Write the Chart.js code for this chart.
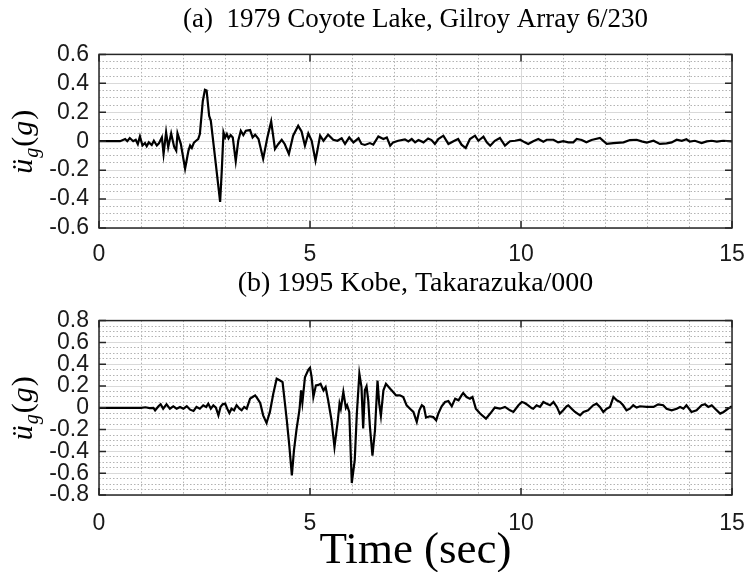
<!DOCTYPE html>
<html>
<head>
<meta charset="utf-8">
<script src="https://cdn.jsdelivr.net/npm/chart.js@4/dist/chart.umd.min.js"></script>
<style>
body { margin: 0; background: #fff; width: 748px; height: 572px; overflow: hidden; position: relative; }
canvas { position: absolute; left: 0; }
#chartA { top: 0; }
#chartB { top: 266px; }
</style>
</head>
<body>
<canvas id="chartA" width="748" height="268"></canvas>
<canvas id="chartB" width="748" height="306"></canvas>
<script>
// tick labels
var ticksX = [0, 5, 10, 15];
var ticksYA = [-0.6, -0.4, -0.2, 0, 0.2, 0.4, 0.6];
var ticksYB = [-0.8, -0.6, -0.4, -0.2, 0, 0.2, 0.4, 0.6, 0.8];

// (a) 1979 Coyote Lake, Gilroy Array 6/230  -- time (s), accel (g)
var timeA = [0, 0.5, 0.62, 0.67, 0.73, 0.81, 0.87, 0.92, 0.97, 1.03, 1.09, 1.13, 1.18, 1.25, 1.3, 1.37, 1.42, 1.45,
  1.49, 1.53, 1.59, 1.64, 1.71, 1.78, 1.83, 1.86, 1.94, 2.04, 2.12, 2.16, 2.2, 2.25, 2.3, 2.35, 2.39, 2.46, 2.51,
  2.55, 2.61, 2.65, 2.75, 2.87, 2.91, 2.95, 2.99, 3.03, 3.07, 3.12, 3.17, 3.24, 3.3, 3.36, 3.42, 3.48, 3.58, 3.64,
  3.7, 3.78, 3.89, 3.99, 4.08, 4.17, 4.25, 4.33, 4.4, 4.5, 4.6, 4.72, 4.8, 4.88, 4.96, 5.04, 5.13, 5.24, 5.32, 5.43,
  5.55, 5.65, 5.75, 5.83, 5.93, 6.03, 6.15, 6.22, 6.3, 6.42, 6.5, 6.62, 6.74, 6.82, 6.9, 6.97, 7.09, 7.25, 7.33,
  7.41, 7.49, 7.57, 7.69, 7.8, 7.88, 7.96, 8.04, 8.16, 8.28, 8.4, 8.51, 8.59, 8.69, 8.79, 8.91, 8.99, 9.11, 9.19,
  9.27, 9.38, 9.5, 9.62, 9.74, 9.86, 9.98, 10.09, 10.17, 10.29, 10.41, 10.53, 10.61, 10.77, 10.88, 11, 11.12, 11.24,
  11.32, 11.44, 11.55, 11.67, 11.87, 12.03, 12.19, 12.43, 12.58, 12.74, 12.86, 12.98, 13.14, 13.29, 13.45, 13.57,
  13.69, 13.81, 13.92, 14, 14.12, 14.28, 14.4, 14.52, 14.64, 14.79, 15];
var accA = [0, 0, 0.015, 0, 0.022, 0, 0.01, -0.02, 0.033, -0.03, -0.013, -0.035, -0.008, -0.026, 0.003, -0.03, -0.015, 0.003,
  0.026, -0.088, 0.061, -0.042, 0.054, -0.038, -0.065, 0.054, -0.02, -0.19, -0.065, -0.03, -0.047, -0.01, 0.003, 0.015, 0.049, 0.278, 0.355,
  0.35, 0.175, 0.141, -0.111, -0.42, -0.2, 0.061, 0.025, 0.05, 0.02, 0.042, 0.026, -0.138, 0.003, 0.072, 0.042, 0.072, 0.077, 0.026,
  0.045, 0.015, -0.122, 0.026, 0.136, -0.054, -0.019, 0.01, -0.019, -0.088, 0.038, 0.106, 0.067, -0.031, 0.054, 0.003, -0.134, 0.038, 0.003, 0.045,
  0.01, 0.003, 0.02, -0.019, 0.026, -0.008, 0.02, -0.019, -0.026, -0.013, -0.024, 0.033, 0.015, 0.026, -0.031, -0.008, 0.003, 0.013, -0.001,
  0.015, -0.008, 0.008, -0.008, 0.019, 0.008, -0.019, 0.015, 0.038, -0.019, 0, 0.015, -0.024, -0.047, 0.015, 0.038, 0.003, 0.031, -0.008,
  -0.031, 0.003, 0.022, -0.031, 0, 0.003, 0.01, -0.008, -0.019, 0, 0.015, -0.003, 0.01, 0.01, -0.008, 0, -0.008, -0.008,
  0.015, 0.008, -0.008, 0.008, 0.022, -0.019, -0.013, -0.008, 0.008, 0.01, -0.001, -0.01, 0.003, -0.019, -0.015, -0.008,
  0.01, 0.003, 0.013, -0.003, 0.003, -0.013, -0.001, 0.003, -0.003, 0.003, -0.001];

// (b) 1995 Kobe, Takarazuka/000
var timeB = [0, 1, 1.1, 1.2, 1.29, 1.33, 1.41, 1.46, 1.52, 1.6, 1.68, 1.76, 1.84, 1.92, 2, 2.08, 2.16, 2.24, 2.31, 2.39,
  2.47, 2.54, 2.59, 2.65, 2.71, 2.77, 2.83, 2.88, 2.93, 2.99, 3.04, 3.09, 3.14, 3.2, 3.26, 3.33, 3.38, 3.44, 3.5,
  3.58, 3.64, 3.7, 3.74, 3.82, 3.89, 3.97, 4.05, 4.13, 4.21, 4.29, 4.35, 4.45, 4.51, 4.57, 4.62, 4.68, 4.75, 4.79,
  4.82, 4.88, 4.96, 5, 5.04, 5.08, 5.14, 5.2, 5.25, 5.32, 5.37, 5.43, 5.51, 5.58, 5.66, 5.7, 5.73, 5.79, 5.85, 5.88,
  5.93, 5.99, 6.06, 6.11, 6.17, 6.22, 6.26, 6.3, 6.34, 6.38, 6.42, 6.48, 6.54, 6.6, 6.64, 6.68, 6.74, 6.8, 6.9, 6.97,
  7.04, 7.13, 7.21, 7.29, 7.37, 7.45, 7.53, 7.59, 7.65, 7.7, 7.75, 7.84, 7.92, 7.99, 8.04, 8.12, 8.2, 8.28, 8.36,
  8.44, 8.52, 8.59, 8.63, 8.71, 8.79, 8.85, 8.93, 9.03, 9.17, 9.27, 9.38, 9.5, 9.62, 9.74, 9.82, 9.94, 10.02, 10.09,
  10.17, 10.25, 10.29, 10.37, 10.45, 10.53, 10.61, 10.69, 10.77, 10.85, 10.92, 11, 11.08, 11.12, 11.2, 11.28, 11.4,
  11.48, 11.59, 11.71, 11.79, 11.87, 11.95, 12.03, 12.11, 12.19, 12.27, 12.35, 12.42, 12.5, 12.58, 12.66, 12.74,
  12.82, 12.98, 13.14, 13.25, 13.37, 13.45, 13.57, 13.69, 13.77, 13.85, 13.92, 14.04, 14.16, 14.28, 14.36, 14.44,
  14.52, 14.6, 14.72, 14.8, 14.91, 15];
var accB = [0, 0, 0.005, -0.003, 0, -0.023, 0.014, 0.032, -0.008, 0.032, -0.008, 0.014, -0.008, 0.008, -0.008, 0.014, -0.017, -0.029, 0.008, -0.008,
  0.023, 0.008, 0.038, -0.008, 0.023, 0.002, -0.069, 0.008, 0.032, 0.038, -0.008, -0.047, -0.008, -0.023, 0.023, -0.008, -0.023, 0.008, -0.008,
  0.084, 0.099, 0.114, 0.093, 0.044, -0.069, -0.139, -0.038, 0.129, 0.267, 0.25, 0.236, -0.114, -0.35, -0.62, -0.39, -0.2, -0.02, 0.16,
  0.05, 0.28, 0.349, 0.367, 0.28, 0.1, 0.206, 0.21, 0.22, 0.16, 0.19, 0.069, -0.114, -0.36, -0.114, 0.038, -0.008, 0.145, 0, 0.023,
  -0.038, -0.69, -0.48, -0.053, 0.312, 0.19, -0.19, 0.16, 0.197, 0.069, -0.175, -0.44, -0.206, 0.25, 0.038, -0.075, 0.16, 0.22, 0.175, 0.145,
  0.114, 0.114, 0.099, 0.023, -0.008, -0.038, -0.129, -0.023, 0.023, 0.008, -0.09, -0.078, -0.084, -0.114, -0.053, 0.014, 0.053, 0.062, 0.014,
  0.084, 0.069, 0.114, 0.136, 0.099, 0.084, 0.099, -0.008, -0.053, -0.099, -0.053, 0.002, -0.008, 0.008, -0.023, -0.038, 0.023, 0.053, 0.044,
  0.023, -0.002, -0.008, 0.023, 0.008, 0.053, 0.038, 0.023, 0.053, 0.008, -0.053, -0.023, 0.014, 0.023, -0.008, -0.038, -0.069,
  -0.038, -0.023, 0.023, 0.038, 0.008, -0.038, -0.008, 0.008, 0.099, 0.069, 0.053, 0.023, -0.023, -0.008, 0.023, 0.002,
  0.014, 0.008, 0.008, 0.032, 0.023, -0.008, -0.023, -0.008, 0.008, -0.008, 0.023, -0.038, -0.023, 0.023, 0.032, 0.008,
  0.023, -0.008, -0.053, -0.038, -0.008, 0.014];

Chart.defaults.font.family = '"Liberation Sans", Arial, sans-serif';
Chart.defaults.color = '#1a1a1a';

function findTick(list, v) {
  for (var i = 0; i < list.length; i++) {
    if (Math.abs(list[i] - v) < 1e-6) return list[i];
  }
  return null;
}

// box around plot area + MATLAB style inward ticks
var framePlugin = {
  id: 'frame',
  afterDatasetsDraw: function(chart, args, opts) {
    var ctx = chart.ctx, a = chart.chartArea;
    var xs = chart.scales.x, ys = chart.scales.y;
    ctx.save();
    ctx.strokeStyle = '#262626';
    ctx.lineWidth = 1.5;
    ctx.beginPath();
    opts.xTicks.forEach(function(v) {
      var p = xs.getPixelForValue(v);
      ctx.moveTo(p, a.bottom); ctx.lineTo(p, a.bottom - 7);
      ctx.moveTo(p, a.top); ctx.lineTo(p, a.top + 7);
    });
    opts.yTicks.forEach(function(v) {
      var p = ys.getPixelForValue(v);
      ctx.moveTo(a.left, p); ctx.lineTo(a.left + 7, p);
      ctx.moveTo(a.right, p); ctx.lineTo(a.right - 7, p);
    });
    ctx.stroke();
    ctx.strokeRect(a.left, a.top, a.right - a.left, a.bottom - a.top);
    ctx.restore();
  }
};

// rotated y label: u-double-dot sub g (g)
var yLabelPlugin = {
  id: 'yLabel',
  afterDraw: function(chart) {
    var ctx = chart.ctx, a = chart.chartArea;
    var cy = (a.top + a.bottom) / 2;
    var parts = [
      ['\u00fc', 'italic 30px "Liberation Serif"', 0],
      ['g', 'italic 20px "Liberation Serif"', 6],
      ['(', '30px "Liberation Serif"', 0],
      ['g', 'italic 30px "Liberation Serif"', 0],
      [')', '30px "Liberation Serif"', 0]
    ];
    ctx.save();
    var total = 0;
    parts.forEach(function(p) { ctx.font = p[1]; p.push(ctx.measureText(p[0]).width); total += p[3] + 1; });
    ctx.translate(32, cy);
    ctx.rotate(-Math.PI / 2);
    ctx.fillStyle = '#000';
    ctx.textBaseline = 'alphabetic';
    var x = -total / 2;
    parts.forEach(function(p) {
      ctx.font = p[1];
      ctx.fillText(p[0], x, p[2]);
      x += p[3] + 1;
    });
    ctx.restore();
  }
};

function makeChart(id, times, acc, yTicks, yMin, yMax, title, titleSize, titlePad, xHeight, xPad, xTitle) {
  var step = 0.05;
  return new Chart(document.getElementById(id), {
    type: 'line',
    data: {
      datasets: [{
        data: times.map(function(t, i) { return {x: t, y: acc[i]}; }),
        borderColor: '#000',
        borderWidth: 2.2,
        pointRadius: 0,
        tension: 0,
        fill: false
      }]
    },
    options: {
      responsive: false,
      animation: false,
      layout: {padding: {left: 0, right: 16, top: 0, bottom: 0}},
      plugins: {
        legend: {display: false},
        tooltip: {enabled: false},
        title: {
          display: true,
          text: title,
          fullSize: false,
          color: '#000',
          font: {family: '"Liberation Serif", "Times New Roman", serif', size: titleSize, weight: 'normal'},
          padding: titlePad
        },
        frame: {xTicks: ticksX, yTicks: yTicks}
      },
      scales: {
        x: {
          type: 'linear',
          min: 0,
          max: 15,
          afterFit: function(s) { s.height = xHeight; s.paddingLeft = 0; s.paddingRight = 0; },
          ticks: {
            stepSize: 1,
            autoSkip: false,
            maxRotation: 0,
            padding: xPad,
            font: {size: 23},
            callback: function(v) { var t = findTick(ticksX, v); return t === null ? '' : String(t); }
          },
          grid: {
            drawTicks: false,
            lineWidth: 1,
            color: function(c) { return c.tick && findTick(ticksX, c.tick.value) !== null ? '#d9d9d9' : '#b3b3b3'; }
          },
          border: {
            display: false,
            dash: function(c) { return c.tick && findTick(ticksX, c.tick.value) !== null ? [] : [1.5, 2]; }
          },
          title: xTitle
        },
        y: {
          min: yMin,
          max: yMax,
          afterFit: function(s) { s.width = 99; },
          ticks: {
            stepSize: step,
            autoSkip: false,
            padding: 10,
            font: {size: 23},
            callback: function(v) { var t = findTick(yTicks, v); return t === null ? '' : String(t); }
          },
          grid: {
            drawTicks: false,
            lineWidth: 1,
            color: function(c) { return c.tick && findTick(yTicks, c.tick.value) !== null ? '#d9d9d9' : '#b3b3b3'; }
          },
          border: {
            display: false,
            dash: function(c) { return c.tick && findTick(yTicks, c.tick.value) !== null ? [] : [1.5, 2]; }
          }
        }
      }
    },
    plugins: [framePlugin, yLabelPlugin]
  });
}

makeChart('chartA', timeA, accA, ticksYA, -0.6, 0.6,
  '(a)  1979 Coyote Lake, Gilroy Array 6/230', 27, {top: 4, bottom: 18}, 40, 13, {display: false});

makeChart('chartB', timeB, accB, ticksYB, -0.8, 0.8,
  '(b) 1995 Kobe, Takarazuka/000', 28, {top: 1, bottom: 20}, 77, 15,
  {display: true, text: 'Time (sec)', color: '#000', padding: {top: 0, bottom: 0},
   font: {family: '"Liberation Serif", "Times New Roman", serif', size: 45, lineHeight: 0.94, weight: 'normal'}});
</script>
</body>
</html>
